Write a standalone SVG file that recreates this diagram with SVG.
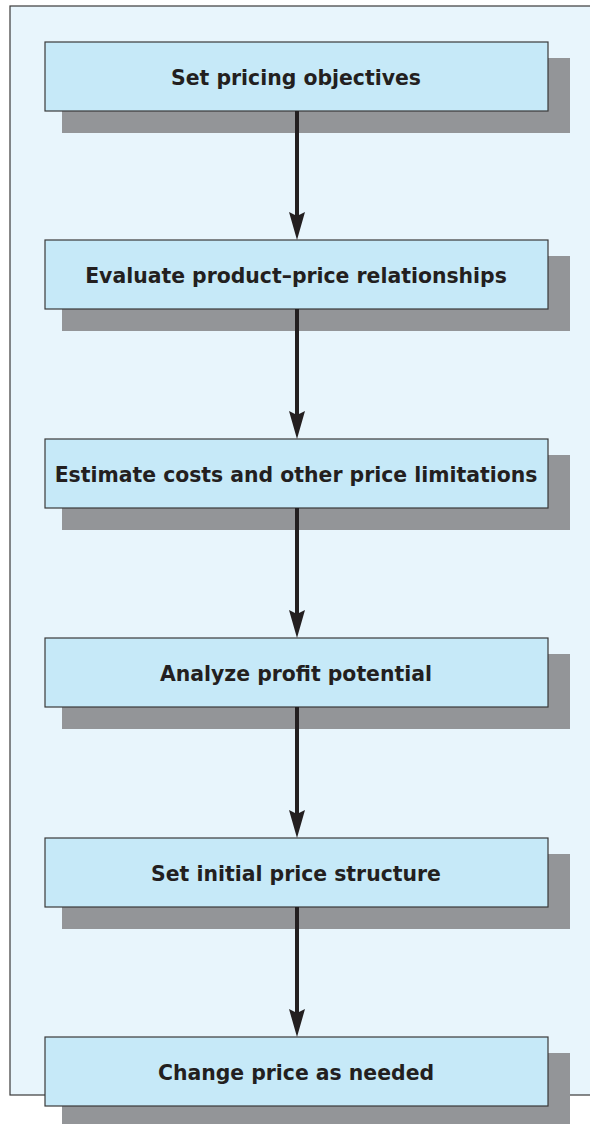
<svg xmlns="http://www.w3.org/2000/svg" width="590" height="1124" viewBox="0 0 590 1124">
<style>
.frame{fill:#e8f5fc;stroke:#3a3a3a;stroke-width:1.2}
.shadow{fill:#939598}
.box{fill:#c6e9f8;stroke:#3a3a3a;stroke-width:1.2}
.lbl{font-family:"DejaVu Sans","Liberation Sans",sans-serif;font-weight:bold;font-size:20.4px;fill:#231f20;text-anchor:middle}
.conn{stroke:#231f20;stroke-width:4;fill:none}
</style>
<defs>
<marker id="ah" markerUnits="userSpaceOnUse" markerWidth="28" markerHeight="16" refX="20" refY="8" orient="auto" viewBox="0 0 28 16">
<path d="M0,0 L4,8 L0,16 L28,8 Z" fill="#231f20"/>
</marker>
</defs>
<rect class="frame" x="10" y="6" width="600" height="1089"/>
<g id="n1"><rect class="shadow" x="62" y="58" width="508" height="75"/><rect class="box" x="45" y="42" width="503" height="69"/><text class="lbl" x="296" y="85">Set pricing objectives</text></g>
<g id="n2"><rect class="shadow" x="62" y="256" width="508" height="75"/><rect class="box" x="45" y="240" width="503" height="69"/><text class="lbl" x="296" y="283">Evaluate product–price relationships</text></g>
<g id="n3"><rect class="shadow" x="62" y="455" width="508" height="75"/><rect class="box" x="45" y="439" width="503" height="69"/><text class="lbl" x="296" y="482">Estimate costs and other price limitations</text></g>
<g id="n4"><rect class="shadow" x="62" y="654" width="508" height="75"/><rect class="box" x="45" y="638" width="503" height="69"/><text class="lbl" x="296" y="681">Analyze profit potential</text></g>
<g id="n5"><rect class="shadow" x="62" y="854" width="508" height="75"/><rect class="box" x="45" y="838" width="503" height="69"/><text class="lbl" x="296" y="881">Set initial price structure</text></g>
<g id="n6"><rect class="shadow" x="62" y="1053" width="508" height="75"/><rect class="box" x="45" y="1037" width="503" height="69"/><text class="lbl" x="296" y="1080">Change price as needed</text></g>
<g id="connectors">
<line class="conn" x1="297" y1="111" x2="297" y2="232" marker-end="url(#ah)"/>
<line class="conn" x1="297" y1="309" x2="297" y2="431" marker-end="url(#ah)"/>
<line class="conn" x1="297" y1="508" x2="297" y2="630" marker-end="url(#ah)"/>
<line class="conn" x1="297" y1="707" x2="297" y2="830" marker-end="url(#ah)"/>
<line class="conn" x1="297" y1="907" x2="297" y2="1029" marker-end="url(#ah)"/>
</g>
</svg>
